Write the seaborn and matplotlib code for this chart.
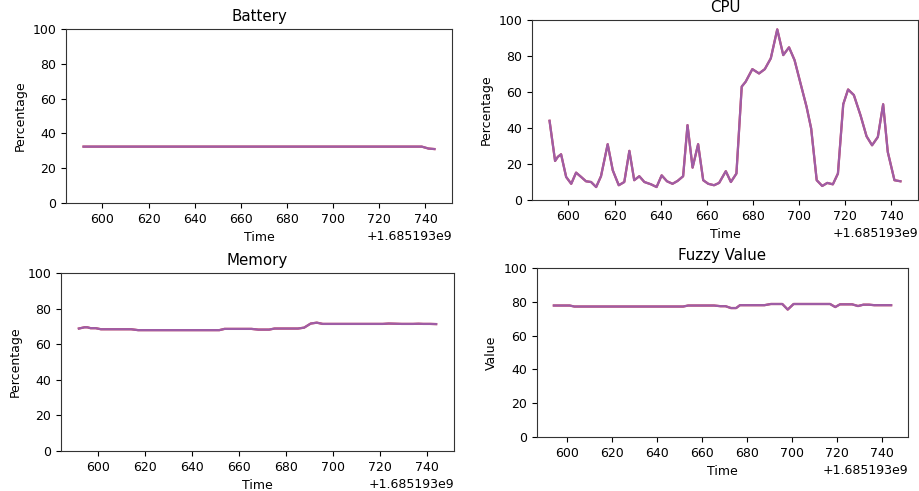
import numpy as np
import pandas as pd
import matplotlib
matplotlib.use("Agg")
import matplotlib.pyplot as plt
import seaborn as sns

OFFSET = 1.685193e9

times_rel = [591.8, 594.2, 595.4, 596.8, 599.0, 601.2, 603.3, 605.5, 607.6, 609.8,
             612.0, 614.1, 617.0, 619.2, 621.8, 624.2, 626.4, 628.5, 630.7, 632.9,
             635.8, 638.2, 640.4, 642.7, 645.1, 647.3, 649.7, 651.6, 653.8, 656.2,
             658.4, 660.6, 663.1, 665.3, 668.2, 670.4, 672.8, 675.1, 676.8, 679.7,
             682.6, 685.1, 687.7, 690.5, 693.1, 695.6, 698.0, 700.6, 703.2, 705.2,
             707.6, 710.0, 712.2, 714.6, 716.8, 719.1, 721.2, 723.7, 726.6, 729.2,
             731.6, 734.1, 736.4, 738.4, 741.3, 743.9]

cpu = [44.0, 21.7, 24.0, 25.4, 12.8, 9.0, 15.2, 12.8, 10.4, 10.0,
       7.2, 13.2, 31.0, 16.5, 8.2, 10.0, 27.3, 11.0, 13.2, 10.0,
       8.7, 7.2, 13.7, 10.4, 9.0, 10.6, 13.2, 41.6, 18.0, 31.0,
       11.0, 9.0, 8.2, 9.5, 16.0, 10.0, 14.7, 63.0, 65.7, 72.7,
       70.3, 72.7, 78.7, 94.8, 80.5, 84.8, 77.7, 64.7, 51.8, 39.7,
       11.0, 7.8, 9.5, 8.7, 14.7, 53.2, 61.4, 58.3, 47.0, 35.4,
       30.4, 35.0, 53.2, 26.7, 11.0, 10.4]

battery = [32.4] * 64 + [31.3, 31.0]

memory = [68.8, 69.5, 69.5, 69.0, 69.0, 68.4, 68.4, 68.4, 68.4, 68.4,
          68.4, 68.4, 67.9, 67.9, 67.9, 67.9, 67.9, 67.9, 67.9, 67.9,
          67.9, 67.9, 67.9, 67.9, 67.9, 67.9, 67.9, 67.9, 68.6, 68.6,
          68.6, 68.6, 68.6, 68.6, 68.2, 68.2, 68.2, 68.8, 68.8, 68.8,
          68.8, 68.8, 69.3, 71.6, 72.1, 71.4, 71.4, 71.4, 71.4, 71.4,
          71.4, 71.4, 71.4, 71.4, 71.4, 71.4, 71.4, 71.6, 71.5, 71.4,
          71.4, 71.4, 71.5, 71.4, 71.4, 71.3]

fuzzy_times_rel = times_rel[1:]
fuzzy = [77.8, 77.8, 77.8, 77.8, 77.8, 77.2, 77.2, 77.2, 77.2,
         77.2, 77.2, 77.2, 77.2, 77.2, 77.2, 77.2, 77.2, 77.2, 77.2,
         77.2, 77.2, 77.2, 77.2, 77.2, 77.2, 77.2, 77.2, 77.8, 77.8,
         77.8, 77.8, 77.8, 77.8, 77.4, 77.4, 76.3, 76.3, 78.0, 78.0,
         78.0, 78.0, 78.0, 78.7, 78.7, 78.7, 75.4, 78.7, 78.7, 78.7,
         78.7, 78.7, 78.7, 78.7, 78.7, 76.9, 78.5, 78.5, 78.5, 77.5,
         78.3, 78.3, 78.0, 78.0, 78.0, 78.0]

plt.rcParams["font.size"] = 9
plt.rcParams["axes.titlesize"] = 10.8
plt.rcParams["axes.labelsize"] = 9
plt.rcParams["xtick.labelsize"] = 9
plt.rcParams["ytick.labelsize"] = 9
plt.rcParams["font.family"] = ["DejaVu Sans"]

W, H = 920, 491
fig = plt.figure(figsize=(W / 100, H / 100), dpi=100)

def rect(left, right, top, bottom):
    return [left / W, (H - bottom) / H, (right - left) / W, (bottom - top) / H]

panels = [
    ("Battery", "Percentage", times_rel, battery, rect(66, 452, 29, 203)),
    ("CPU", "Percentage", times_rel, cpu, rect(532, 918, 20, 200)),
    ("Memory", "Percentage", times_rel, memory, rect(61, 454, 273, 451)),
    ("Fuzzy Value", "Value", fuzzy_times_rel, fuzzy, rect(537, 908, 268, 437)),
]

for title, ylabel, tr, vals, r in panels:
    ax = fig.add_axes(r)
    df = pd.DataFrame({"Time": [OFFSET + t for t in tr], "v": vals})
    sns.lineplot(data=df, x="Time", y="v", ax=ax, color="#d62728", lw=1.6, estimator=None)
    sns.lineplot(data=df, x="Time", y="v", ax=ax, color="#9467bd", lw=1.6, alpha=0.85, estimator=None)
    ax.set_ylim(0, 100)
    ax.set_title(title)
    ax.set_xlabel("Time")
    ax.set_ylabel(ylabel)
    for s in ax.spines.values():
        s.set_color("#333333")

fig.savefig("out.png", dpi=100)
